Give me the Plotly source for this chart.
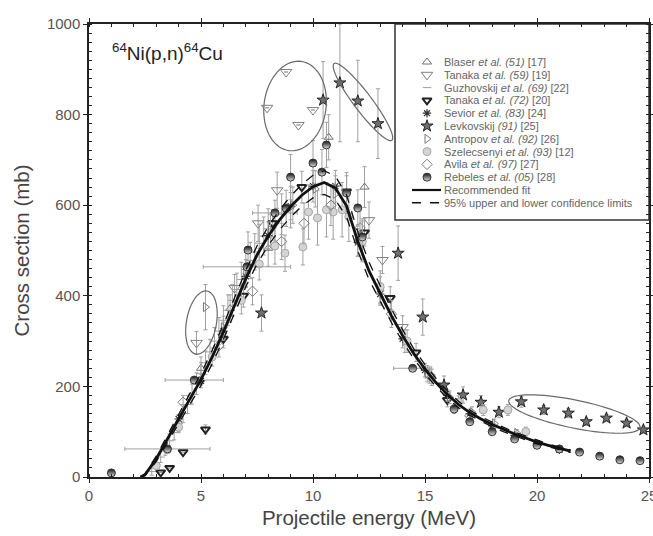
import math
import plotly.graph_objects as go

# ---------------- data ----------------
fit_E = [2.3, 2.5, 3.0, 3.5, 4.0, 4.5, 5.0, 5.5, 6.0, 6.5, 7.0, 7.5, 8.0, 8.5, 9.0, 9.5, 10.0, 10.5,
         11.0, 11.5, 12.0, 12.5, 13.0, 13.5, 14.0, 14.5, 15.0, 15.5, 16.0, 16.5, 17.0, 17.5, 18.0,
         18.5, 19.0, 19.5, 20.0, 20.5, 21.0, 21.5]
fit_xs = [0, 5, 40, 85, 130, 172, 215, 265, 320, 378, 438, 490, 532, 567, 597, 622, 641, 650,
          638, 598, 520, 455, 405, 356, 312, 272, 238, 208, 182, 160, 142, 128, 116,
          105, 95, 86, 77, 70, 63, 57]
fit_hi = [0, 7, 46, 93, 140, 184, 228, 280, 336, 395, 456, 510, 553, 589, 620, 646, 666, 676,
          664, 622, 541, 474, 422, 371, 325, 283, 248, 217, 190, 167, 148, 133, 121,
          110, 99, 90, 81, 73, 66, 60]
fit_lo = [0, 3, 34, 77, 120, 160, 202, 250, 304, 361, 420, 470, 511, 545, 574, 598, 616, 624,
          612, 574, 499, 436, 388, 341, 299, 261, 228, 199, 174, 153, 136, 123, 111,
          100, 91, 82, 73, 67, 60, 54]

blaser_E = [5.0, 6.3, 8.0, 10.7, 12.3]
blaser_xs = [240, 372, 505, 750, 640]
blaser_err = [25, 30, 40, 50, 45]

tanaka59_E = [4.8, 6.5, 7.55, 7.95, 8.4, 8.8, 9.35, 10.0, 12.5, 13.1, 14.0]
tanaka59_xs = [296, 417, 560, 815, 633, 894, 777, 810, 567, 479, 331]
tanaka59_err = [25, 30, 40, 0, 40, 0, 0, 0, 40, 30, 25]

guzh_E = [2.8, 3.0, 3.2, 3.4, 3.6, 3.8, 4.0, 4.2, 4.4, 4.6, 4.8, 5.0, 5.2, 5.4, 5.6, 5.8, 6.0,
          6.2, 6.4, 6.6, 6.8, 7.0, 7.2, 7.4, 7.6, 7.8, 8.0, 8.3, 8.6, 9.0]
guzh_xs = [12, 28, 44, 62, 80, 98, 118, 140, 160, 183, 206, 228, 252, 276, 300, 322, 346,
           368, 390, 414, 436, 458, 478, 497, 516, 532, 548, 566, 580, 596]
guzh_err = [8, 10, 12, 14, 15, 16, 18, 20, 20, 22, 24, 25, 26, 28, 30, 30, 32,
            34, 35, 36, 38, 38, 40, 40, 42, 42, 44, 45, 45, 46]

tanaka72_E = [3.2, 3.6, 4.2, 5.2, 6.0, 6.9, 8.2, 9.5, 11.5, 12.3, 13.45, 14.6, 16.0]
tanaka72_xs = [10, 20, 55, 105, 305, 400, 560, 640, 630, 540, 395, 275, 170]
tanaka72_err = [0, 0, 0, 10, 20, 25, 30, 35, 35, 30, 25, 20, 15]

sevior_E = [4.0, 5.0, 6.0, 7.0, 8.0, 9.0, 10.0, 11.0, 12.0, 13.0, 14.0, 15.0, 16.0, 17.0,
            18.0, 19.0, 20.0, 21.0]
sevior_xs = [128, 212, 322, 443, 533, 598, 642, 642, 518, 404, 305, 236, 180, 140,
             113, 92, 74, 60]
sevior_err = [10, 15, 20, 25, 30, 30, 35, 35, 30, 25, 20, 15, 12, 10, 8, 7, 6, 5]

levk_E = [7.7, 10.45, 11.2, 12.0, 12.9, 13.8, 14.9, 15.85, 16.7, 17.5, 18.3, 19.3, 20.3,
          21.4, 22.2, 23.1, 24.0, 24.75]
levk_xs = [362, 832, 870, 830, 780, 494, 353, 203, 181, 165, 143, 166, 148, 141, 122, 130,
           119, 104]
levk_err = [40, 85, 130, 90, 77, 60, 40, 20, 18, 15, 12, 12, 10, 10, 8, 8, 8, 8]

antr_E = [5.2, 6.0, 7.0, 8.1, 9.1, 10.1, 11.0, 12.0, 13.0, 14.1, 15.1, 16.1, 17.1, 18.1, 19.1]
antr_xs = [375, 330, 450, 545, 600, 636, 625, 522, 412, 300, 228, 176, 143, 118, 97]
antr_err = [50, 25, 30, 35, 40, 40, 40, 35, 30, 25, 18, 14, 12, 10, 8]

szel_E = [3.0, 3.5, 4.0, 5.5, 6.8, 7.6, 8.3, 8.75, 9.55, 9.8, 10.2, 10.6, 10.9, 11.3, 11.6,
          12.2, 13.0, 14.2, 15.3, 16.5, 17.6, 18.7, 19.5]
szel_xs = [25, 60, 110, 265, 390, 470, 510, 494, 508, 585, 572, 590, 585, 590, 575,
           520, 420, 300, 220, 165, 148, 148, 100]
szel_err = [5, 8, 12, 20, 30, 35, 40, 40, 40, 60, 60, 60, 60, 60, 55,
            45, 35, 25, 18, 14, 12, 12, 10]

avila_E = [4.2, 5.8, 7.3, 8.6, 9.6, 10.8, 12.1, 13.5, 15.2, 17.0]
avila_xs = [165, 290, 410, 520, 560, 600, 550, 360, 225, 135]
avila_err = [15, 25, 30, 40, 45, 45, 40, 30, 18, 12]

rebeles_E = [1.0, 3.5, 4.7, 7.05, 7.1, 8.3, 8.8, 9.0, 10.0, 10.4, 10.6, 11.5, 12.0, 12.2,
             14.45, 16.3, 17.0, 18.0, 19.0, 20.0, 21.0, 21.9, 22.8, 23.7, 24.6]
rebeles_xs = [9, 62, 214, 464, 501, 583, 593, 662, 693, 673, 733, 627, 594, 530,
              240, 150, 122, 100, 84, 70, 62, 55, 46, 38, 36]
rebeles_err = [0, 0, 0, 0, 40, 0, 40, 50, 50, 50, 50, 45, 40, 40,
               0, 10, 8, 7, 6, 5, 5, 4, 4, 3, 3]
rebeles_xerr = [0, 1.9, 1.3, 1.95, 0, 1.0, 0, 0, 0, 0, 0, 0, 0, 0,
                0.85, 0, 0, 0, 0, 0, 0, 0, 0, 0, 0]

legend_labels = [
    "Blaser <i>et al.</i> <i>(51)</i> [17]",
    "Tanaka <i>et al.</i> <i>(59)</i> [19]",
    "Guzhovskij <i>et al.</i> <i>(69)</i> [22]",
    "Tanaka <i>et al.</i> <i>(72)</i> [20]",
    "Sevior <i>et al.</i> <i>(83)</i> [24]",
    "Levkovskij <i>(91)</i> [25]",
    "Antropov <i>et al.</i> <i>(92)</i> [26]",
    "Szelecsenyi <i>et al.</i> <i>(93)</i> [12]",
    "Avila <i>et al.</i> <i>(97)</i> [27]",
    "Rebeles <i>et al.</i> <i>(05)</i> [28]",
    "Recommended fit",
    "95% upper and lower confidence limits",
]

# ---------------- layout constants ----------------
W, H = 653, 536
ML, MR, MT, MB = 89, 4, 24, 59
PW, PH = W - ML - MR, H - MT - MB
XMAX, YMAX = 25, 1000
XS, YS = PW / XMAX, PH / YMAX

FONT = "Liberation Sans, Arial, sans-serif"
ERRC = "#a0a0a0"

styles = [
    dict(symbol="triangle-up-open", size=8, color="#707070", line=dict(width=1, color="#707070")),
    dict(symbol="triangle-down-open", size=10, color="#808080", line=dict(width=1, color="#808080")),
    dict(symbol="line-ew-open", size=6, color="#a0a0a0", line=dict(width=1, color="#a0a0a0")),
    dict(symbol="triangle-down-open", size=8, color="#222222", line=dict(width=2, color="#222222")),
    dict(symbol="asterisk-open", size=7, color="#333333", line=dict(width=1.2, color="#333333")),
    dict(symbol="star", size=9, color="#707070", line=dict(width=1, color="#222222")),
    dict(symbol="triangle-right-open", size=8, color="#7a7a7a", line=dict(width=1, color="#7a7a7a")),
    dict(symbol="circle", size=8, color="#d4d4d4", line=dict(width=1, color="#a8a8a8")),
    dict(symbol="diamond-open", size=8, color="#7a7a7a", line=dict(width=1, color="#7a7a7a")),
    dict(symbol="circle", size=8, color="#111111", line=dict(width=1, color="#333333"),
         gradient=dict(type="vertical", color="#e0e0e0")),
]

series = [
    (blaser_E, blaser_xs, blaser_err, None),
    (tanaka59_E, tanaka59_xs, tanaka59_err, None),
    (guzh_E, guzh_xs, guzh_err, None),
    (tanaka72_E, tanaka72_xs, tanaka72_err, None),
    (sevior_E, sevior_xs, sevior_err, None),
    (levk_E, levk_xs, levk_err, None),
    (antr_E, antr_xs, antr_err, None),
    (szel_E, szel_xs, szel_err, None),
    (avila_E, avila_xs, avila_err, None),
    (rebeles_E, rebeles_xs, rebeles_err, rebeles_xerr),
]

fig = go.Figure()

for (ex, ys, err, xerr), st, name in zip(series, styles, legend_labels):
    tr = dict(
        x=ex, y=ys, mode="markers", name=name, showlegend=False,
        marker=st, cliponaxis=False,
        error_y=dict(type="data", array=err, color=ERRC, thickness=1, width=2),
    )
    if xerr is not None:
        tr["error_x"] = dict(type="data", array=xerr, color=ERRC, thickness=1, width=2)
    fig.add_trace(go.Scatter(**tr))

fig.add_trace(go.Scatter(x=fit_E, y=fit_hi, mode="lines", showlegend=False,
                         line=dict(color="#111111", width=1.3, dash="dash")))
fig.add_trace(go.Scatter(x=fit_E, y=fit_lo, mode="lines", showlegend=False,
                         line=dict(color="#111111", width=1.3, dash="dash")))
fig.add_trace(go.Scatter(x=fit_E, y=fit_xs, mode="lines", showlegend=False,
                         line=dict(color="#111111", width=2.8)))

# ---------------- hand-drawn ellipses ----------------
def ellipse_path(cx, cy, a, b, ang):
    th = math.radians(ang)
    pts = []
    for i in range(73):
        t = 2 * math.pi * i / 72
        px = a * math.cos(t) * math.cos(th) - b * math.sin(t) * math.sin(th)
        py = a * math.cos(t) * math.sin(th) + b * math.sin(t) * math.cos(th)
        pts.append((cx + px / XS, cy - py / YS))
    return "M " + " L ".join(f"{x:.4f},{y:.3f}" for x, y in pts) + " Z"

ellipses = [(5.02, 341, 32, 15, -80), (9.2, 819, 45, 31, -82),
            (12.23, 828, 48, 9, 53), (21.67, 139, 67, 14, 11.6)]
shapes = []
for cx, cy, a, b, ang in ellipses:
    shapes.append(dict(type="path", xref="x", yref="y", path=ellipse_path(cx, cy, a, b, ang),
                       line=dict(color="#6a6a6a", width=1.2)))

# ---------------- custom legend ----------------
lx0, lx1 = (395 - ML) / PW, 1.0
ly0, ly1 = (MT + PH - 220) / PH, 1.0
shapes.append(dict(type="rect", xref="paper", yref="paper", x0=lx0, x1=lx1, y0=ly0, y1=ly1,
                   line=dict(color="#333333", width=1.5), fillcolor="white", layer="below"))

row_px0, row_dpx = 62, 12.8
sym_x = (427 - ML) / PW
txt_x = (442 - ML) / PW
annotations = []
for i, lab in enumerate(legend_labels):
    py = row_px0 + row_dpx * i
    yf = (MT + PH - py) / PH
    annotations.append(dict(x=txt_x, y=yf, xref="paper", yref="paper", text=lab,
                            showarrow=False, xanchor="left", yanchor="middle",
                            font=dict(family=FONT, size=11, color="#666666")))
    if i < len(styles):
        st = dict(styles[i])
        fig.add_trace(go.Scatter(x=[sym_x], y=[yf], xaxis="x2", yaxis="y2", mode="markers",
                                 marker=st, showlegend=False, cliponaxis=False,
                                 hoverinfo="skip"))
    else:
        shapes.append(dict(type="line", xref="paper", yref="paper",
                           x0=(412 - ML) / PW, x1=(441 - ML) / PW, y0=yf, y1=yf, layer="above",
                           line=dict(color="#111111", width=2.2 if i == 10 else 1.5,
                                     dash="solid" if i == 10 else "dash")))

annotations.append(dict(x=(110 - ML) / PW, y=(MT + PH - 52) / PH, xref="paper", yref="paper",
                        text="<sup>64</sup>Ni(p,n)<sup>64</sup>Cu", showarrow=False,
                        xanchor="left", yanchor="middle",
                        font=dict(family=FONT, size=19, color="#222222")))

axis_common = dict(
    showgrid=False, zeroline=False, showline=True, linecolor="#222222", linewidth=1.5,
    mirror="allticks", ticks="outside", ticklen=4, tickwidth=1.2, tickcolor="#222222",
    tickfont=dict(family=FONT, size=15, color="#555555"), automargin=False,
    ticklabeloverflow="allow",
)

fig.update_layout(
    width=W, height=H, margin=dict(l=ML, r=MR, t=MT, b=MB, autoexpand=False),
    paper_bgcolor="white", plot_bgcolor="white",
    showlegend=False,
    xaxis=dict(range=[0, XMAX], dtick=5, tick0=0,
               minor=dict(dtick=1, ticks="inside", ticklen=3, tickcolor="#222222"),
               title=dict(text="Projectile energy (MeV)", standoff=8,
                          font=dict(family=FONT, size=20.5, color="#444444")),
               **axis_common),
    yaxis=dict(range=[0, YMAX], dtick=200, tick0=0,
               minor=dict(dtick=20, ticks="inside", ticklen=3, tickcolor="#222222"),
               title=dict(text="Cross section (mb)", standoff=12,
                          font=dict(family=FONT, size=20.5, color="#444444")),
               **axis_common),
    xaxis2=dict(range=[0, 1], overlaying="x", visible=False, anchor="y2"),
    yaxis2=dict(range=[0, 1], overlaying="y", visible=False, anchor="x2"),
    shapes=shapes,
    annotations=annotations,
)

fig.write_html("out.html", config={"displayModeBar": False},
               post_script="document.body.style.margin='0px';")
